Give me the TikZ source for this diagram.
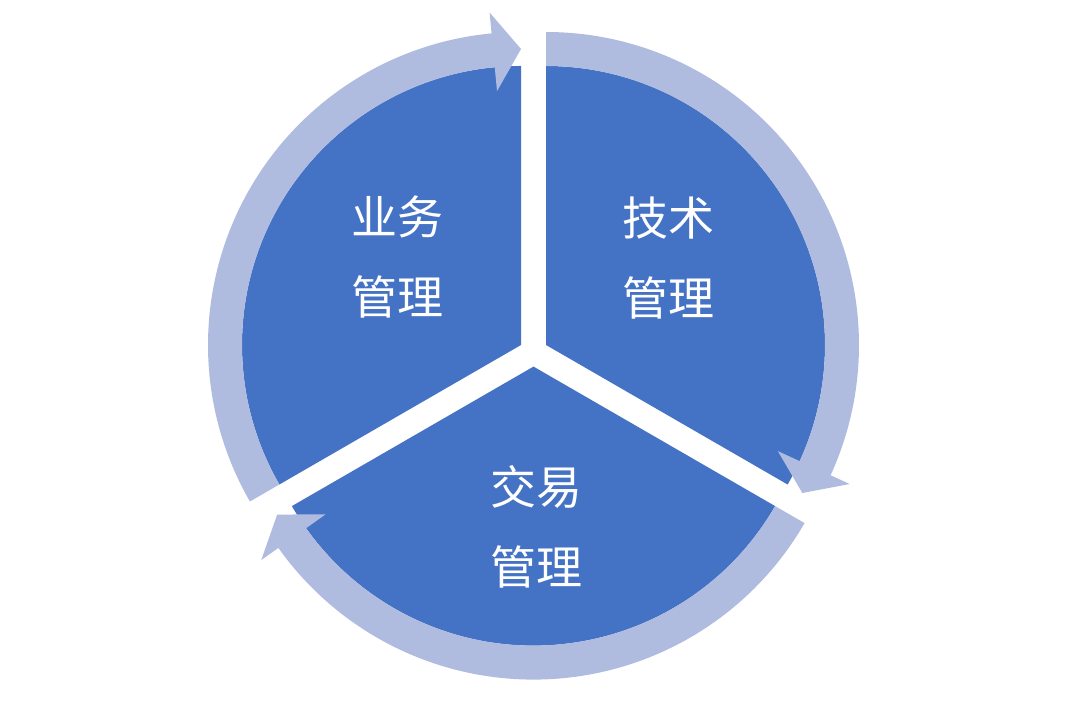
\documentclass[tikz,border=0pt]{standalone}
\usepackage{fontspec}
\newfontfamily\cjk{Noto Sans CJK SC}
\definecolor{pieblue}{HTML}{4472C4}
\definecolor{ringblue}{HTML}{B0BCDF}
\tikzset{
  wedge/.style={fill=pieblue},
  ringarrow/.style={fill=ringblue},
  lbl/.style={text=white, font=\cjk\fontsize{46}{80}\selectfont, align=center, inner sep=0pt}
}
\begin{document}
\begin{tikzpicture}[x=1pt,y=1pt]
\useasboundingbox (0,0) rectangle (1067,711);
% wedges
\begin{scope}[shift={(521,366)}]
  \fill[wedge] (0,0) -- (90:279) arc[start angle=90,end angle=210,radius=279] -- cycle;
  \fill[ringarrow] (210:313) arc[start angle=210,end angle=95.4,radius=313] -- (95.4:334) -- (90:296) -- (95.4:255) -- (95.4:279) arc[start angle=95.4,end angle=210,radius=279] -- cycle;
\end{scope}
\begin{scope}[shift={(546,366)}]
  \fill[wedge] (0,0) -- (90:279) arc[start angle=90,end angle=-30,radius=279] -- cycle;
  \fill[ringarrow] (90:313) arc[start angle=90,end angle=-24.6,radius=313] -- (-24.6:334) -- (-30:296) -- (-24.6:255) -- (-24.6:279) arc[start angle=-24.6,end angle=90,radius=279] -- cycle;
\end{scope}
\begin{scope}[shift={(533.5,344.4)}]
  \fill[wedge] (0,0) -- (-30:279) arc[start angle=-30,end angle=-150,radius=279] -- cycle;
  \fill[ringarrow] (-30:313) arc[start angle=-30,end angle=-144.6,radius=313] -- (-144.6:334) -- (-150:296) -- (-144.6:255) -- (-144.6:279) arc[start angle=-144.6,end angle=-30,radius=279] -- cycle;
\end{scope}
% labels
\node[lbl] (yewu) at (397,454) {业务\\管理};
\node[lbl] (jishu) at (668,453) {技术\\管理};
\node[lbl] (jiaoyi) at (536,184) {交易\\管理};
\end{tikzpicture}
\end{document}
